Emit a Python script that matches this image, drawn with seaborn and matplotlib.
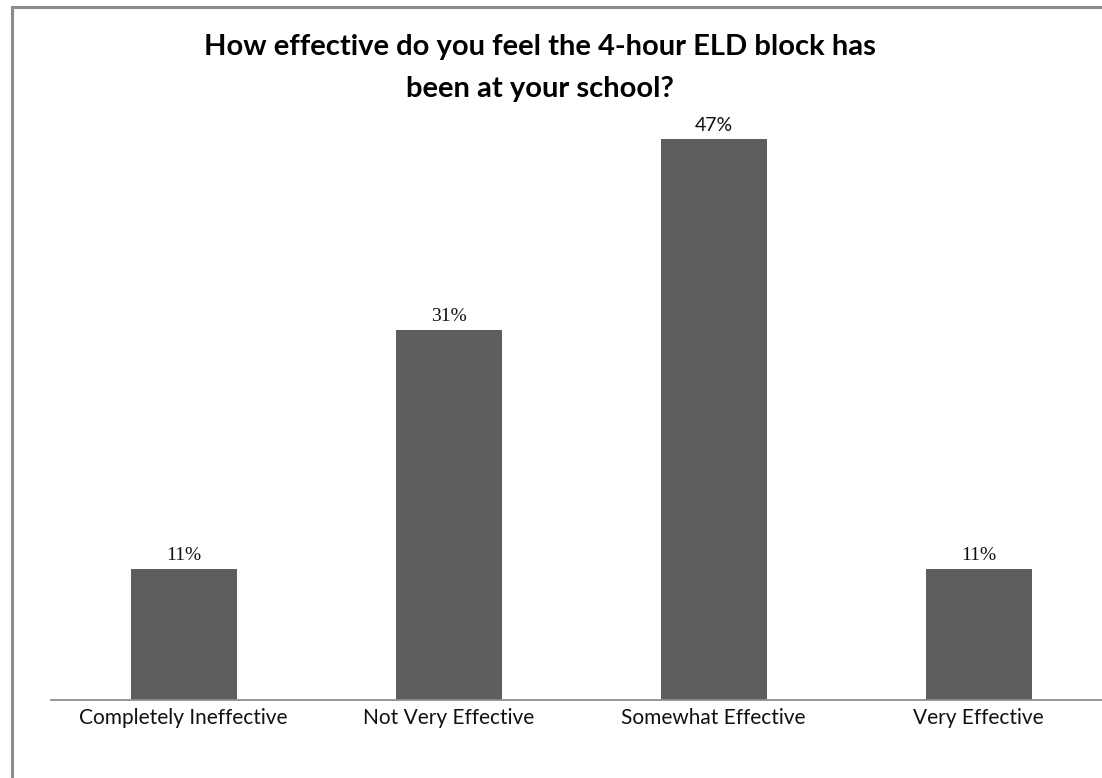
import matplotlib
matplotlib.use("Agg")
import matplotlib.pyplot as plt
import seaborn as sns
import pandas as pd
from matplotlib.patches import Rectangle

categories = ["Completely Ineffective", "Not Very Effective", "Somewhat Effective", "Very Effective"]
values = [11, 31, 47, 11]
labels = ["11%", "31%", "47%", "11%"]
title = "How effective do you feel the 4-hour ELD block has\nbeen at your school?"

sns.set_style("white")
plt.rcParams['font.family'] = ['Lato', 'DejaVu Sans']

W, H = 1102, 778
fig = plt.figure(figsize=(W / 100, H / 100), dpi=100)
fig.patch.set_facecolor("white")

ax = fig.add_axes([51 / W, 78 / H, (W - 51) / W, 600 / H])
df = pd.DataFrame({"cat": categories, "val": values})
sns.barplot(data=df, x="cat", y="val", color="#5e5e5e", saturation=1, width=0.4,
            ax=ax, edgecolor="none")
ax.set_xlim(-0.5, -0.5 + (W - 51) / 265)
ax.set_ylim(0, 50.25)
ax.set_xlabel("")
ax.set_ylabel("")
ax.set_yticks([])
for s in ["top", "right", "left"]:
    ax.spines[s].set_visible(False)
ax.spines["bottom"].set_color("#8c8c8c")
ax.spines["bottom"].set_linewidth(1.3)
ax.tick_params(axis="x", length=0, pad=6, labelsize=15, colors="#111111")

fonts = ["Liberation Serif", "Liberation Serif", "Lato", "Liberation Serif"]
for i, (v, lab) in enumerate(zip(values, labels)):
    ax.annotate(lab, (i, v), xytext=(0, 3.5), textcoords="offset points",
                ha="center", va="bottom", fontsize=14, family=fonts[i], color="#111111")

fig.text(540 / W, 1 - 68 / H, title, ha="center", va="center", fontsize=21,
         fontweight="bold", linespacing=1.78, color="#000000")

fig.patches.append(Rectangle((11.5 / W, -0.1), 2, 1 - 7.5 / H + 0.1,
                             transform=fig.transFigure, fill=False,
                             edgecolor="#8c8c8c", linewidth=2.2, clip_on=False))

fig.savefig("out.png", dpi=100)
